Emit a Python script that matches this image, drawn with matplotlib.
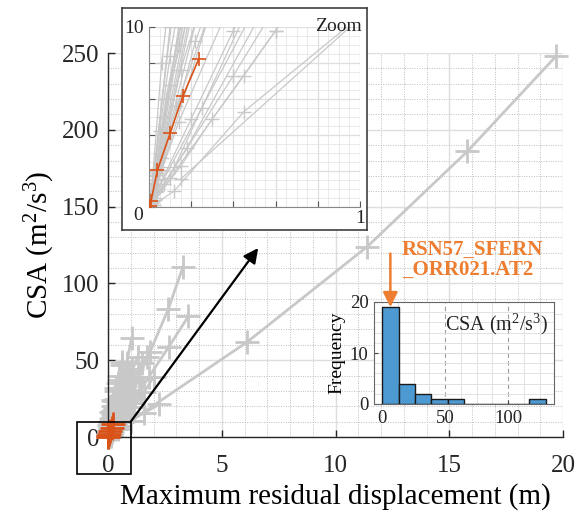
import matplotlib
matplotlib.use("Agg")
import matplotlib.pyplot as plt
from matplotlib.patches import Rectangle
from matplotlib.ticker import MultipleLocator

plt.rcParams['font.family'] = ['Liberation Serif', 'DejaVu Serif']
plt.rcParams['mathtext.fontset'] = 'custom'
plt.rcParams['mathtext.rm'] = 'Liberation Serif'
plt.rcParams['mathtext.it'] = 'Liberation Serif:italic'

# ---- data: (displacement [m], CSA [m^2/s^3]) per record, gray records ----
rec_x = [
    [0.02, 0.14, 1.0, 1.85, 2.65, 3.3],
    [0.03, 0.18, 0.95, 1.8, 2.68, 3.53],
    [0.02, 0.12, 0.55, 1.0, 1.38, 1.70],
    [0.01, 0.06, 0.3, 0.58, 0.82, 1.04],
    [0.008, 0.04, 0.17, 0.33, 0.47, 0.6],
    [0.15, 1.0, 6.13, 11.4, 15.8, 19.7],
    [0.025, 0.12, 0.45, 1.0, 1.6, 2.25],
    [0.015, 0.1, 0.6, 1.15, 1.6, 2.0],
    [0.01, 0.07, 0.4, 0.78, 1.12, 1.45],
    [0.006, 0.04, 0.25, 0.5, 0.72, 0.93],
    [0.005, 0.035, 0.2, 0.4, 0.6, 0.8],
    [0.005, 0.03, 0.152, 0.3, 0.45, 0.6],
    [0.004, 0.02, 0.1, 0.22, 0.36, 0.5],
    [0.005, 0.025, 0.12, 0.28, 0.45, 0.62],
    [0.003, 0.015, 0.06, 0.14, 0.24, 0.35],
    [0.003, 0.018, 0.08, 0.18, 0.3, 0.42],
    [0.006, 0.03, 0.14, 0.32, 0.52, 0.75],
    [0.004, 0.022, 0.1, 0.25, 0.42, 0.6],
    [0.008, 0.04, 0.2, 0.45, 0.75, 1.05],
    [0.002, 0.012, 0.05, 0.1, 0.16, 0.22],
    [0.01, 0.05, 0.28, 0.6, 0.95, 1.3],
    [0.007, 0.035, 0.18, 0.42, 0.7, 1.0],
    [0.006, 0.03, 0.15, 0.35, 0.58, 0.82],
    [0.003, 0.016, 0.07, 0.15, 0.24, 0.33],
    [0.01, 0.045, 0.22, 0.5, 0.8, 1.12],
    [0.005, 0.028, 0.13, 0.3, 0.48, 0.68],
    [0.012, 0.06, 0.32, 0.7, 1.1, 1.5],
]
rec_y = [
    [0.7, 4.7, 27.8, 55.5, 83.3, 111],
    [0.5, 3.3, 19.6, 39.2, 58.9, 78.5],
    [0.33, 2.2, 13.1, 26.2, 39.3, 52.4],
    [0.4, 2.7, 16.1, 32.2, 48.3, 64.4],
    [0.3, 2.1, 12.3, 24.5, 36.8, 49],
    [1.55, 10.5, 62, 124, 186, 248],
    [0.13, 0.9, 5.3, 10.6, 15.9, 21.2],
    [0.24, 1.6, 9.8, 19.6, 29.4, 39.2],
    [0.18, 1.25, 7.3, 14.6, 22, 29.3],
    [0.13, 0.9, 5.5, 11, 16.5, 22],
    [0.12, 0.82, 4.9, 9.8, 14.7, 19.6],
    [0.06, 0.4, 2.3, 4.9, 7.3, 9.8],
    [0.25, 1.7, 10, 20, 30, 40],
    [0.3, 2.0, 11.8, 23.6, 35.4, 47.2],
    [0.2, 1.35, 8, 16, 24, 32],
    [0.15, 1.0, 6, 12, 18, 24],
    [0.22, 1.5, 9, 18, 27, 36],
    [0.17, 1.15, 6.8, 13.6, 20.4, 27.2],
    [0.28, 1.9, 11, 22, 33, 44],
    [0.1, 0.7, 4.2, 8.4, 12.6, 16.8],
    [0.32, 2.2, 13, 26, 39, 52],
    [0.26, 1.8, 10.5, 21, 31.5, 42],
    [0.19, 1.3, 7.6, 15.2, 22.8, 30.4],
    [0.12, 0.85, 5, 10, 15, 20],
    [0.23, 1.55, 9.2, 18.4, 27.6, 36.8],
    [0.14, 0.95, 5.6, 11.2, 16.8, 22.4],
    [0.3, 2.05, 12, 24, 36, 48],
]
# highlighted record RSN57_SFERN_ORR021.AT2
hl_x = [0.003, 0.01, 0.04, 0.10, 0.16, 0.235]
hl_y = [0.05, 0.35, 2.05, 4.1, 6.15, 8.2]
hl_name = "RSN57_SFERN\n_ORR021.AT2"

# CSA values for histogram
hist_values = [1.2, 2.0, 2.8, 3.5, 4.1, 4.9, 5.3, 6.0, 6.8, 7.2, 7.6, 8.2,
               8.4, 9.0, 9.2, 10.0, 10.5, 11.8, 12.3,
               13.1, 16.1, 19.6, 21.2,
               27.8, 29.3,
               45.0,
               62.0,
               124.0]
hist_bins = [0, 13, 26, 39, 52, 65, 78, 91, 104, 117, 130]

main_xticks = [0, 5, 10, 15, 20]
main_yticks = [0, 50, 100, 150, 200, 250]

GRAY = '#c8c8c8'
ORANGE = '#D95319'
ANN = '#ED7D31'

fig = plt.figure(figsize=(5.82, 5.13), dpi=100)
W, H = 582, 513

def fr(x0, y0, x1, y1):
    return [x0 / W, 1 - y1 / H, (x1 - x0) / W, (y1 - y0) / H]

# ---------------- main axes ----------------
ax = fig.add_axes(fr(108, 53, 563, 437))
ax.set_xlim(0, 20)
ax.set_ylim(0, 250)
ax.set_xticks(main_xticks)
ax.set_yticks(main_yticks)
ax.xaxis.set_minor_locator(MultipleLocator(1))
ax.yaxis.set_minor_locator(MultipleLocator(10))
ax.grid(True, which='major', color='#dedede', lw=1.0, ls='-')
ax.grid(True, which='minor', color='#bdbdbd', lw=0.7, ls=(0, (1, 1.5)))
ax.set_axisbelow(True)
ax.tick_params(which='major', direction='in', length=5, width=1, labelsize=18,
               colors='#262626', pad=6)
ax.tick_params(axis='x', which='major', pad=13)
ax.tick_params(which='minor', length=0)
for s in ['top', 'right']:
    ax.spines[s].set_visible(False)
for s in ['left', 'bottom']:
    ax.spines[s].set_color('#262626')
    ax.spines[s].set_linewidth(1.0)
ax.set_xlabel('Maximum residual displacement (m)', fontsize=21, labelpad=4)
ax.set_ylabel(r'CSA (m$^2$/s$^3$)', fontsize=21, labelpad=4)

for xs, ys in zip(rec_x, rec_y):
    ax.plot(xs, ys, color=GRAY, lw=2.0, marker='+', ms=17, mew=2.0, clip_on=False)
ax.plot(hl_x, hl_y, color=ORANGE, lw=2.0, marker='+', ms=17, mew=2.0,
        clip_on=False, zorder=3)

# zoom box and arrow
ax.add_patch(Rectangle((-1.36, -24), 2.36, 34, fill=False, ec='k', lw=1.2,
                       clip_on=False, zorder=5))
ax.annotate('', xy=(6.6, 123), xytext=(1.0, 10.0),
            arrowprops=dict(arrowstyle='-|>', color='k', lw=1.6,
                            mutation_scale=22, shrinkA=0, shrinkB=0), zorder=6)

# ---------------- inset (zoom) ----------------
panel = fig.add_axes(fr(122, 8, 367, 230))
panel.set_xticks([]); panel.set_yticks([])
panel.set_facecolor('white')
for s in panel.spines.values():
    s.set_color('#404040'); s.set_linewidth(1.2)
panel.set_zorder(4)

ins = fig.add_axes(fr(149, 27, 360, 207))
ins.set_zorder(5)
ins.set_xlim(0, 1)
ins.set_ylim(0, 10)
ins.set_xticks([0, 0.2, 0.4, 0.6, 0.8, 1.0])
ins.set_xticklabels(['', '', '', '', '', '1'])
ins.set_yticks([0, 2, 4, 6, 8, 10])
ins.set_yticklabels(['0', '', '', '', '', '10'])
ins.xaxis.set_minor_locator(MultipleLocator(0.05))
ins.yaxis.set_minor_locator(MultipleLocator(0.5))
ins.grid(True, which='major', color='#dedede', lw=0.9)
ins.grid(True, which='minor', color='#e6e6e6', lw=0.6, ls='-')
ins.set_axisbelow(True)
ins.tick_params(which='major', direction='in', length=4, labelsize=14,
                colors='#555555', labelcolor='#222222', pad=2)
ins.tick_params(axis='y', which='major', pad=4)
ins.tick_params(which='minor', length=0)
for s in ['top', 'right']:
    ins.spines[s].set_visible(False)
for s in ['left', 'bottom']:
    ins.spines[s].set_color('#888888')
ins.get_yticklabels()[0].set_va('top')
ins.text(1.01, 1.0, 'Zoom', transform=ins.transAxes, ha='right', va='center',
         fontsize=14, color='#222222')
for xs, ys in zip(rec_x, rec_y):
    ins.plot(xs, ys, color=GRAY, lw=0.9, marker='+', ms=10, mew=1.0)
ins.plot(hl_x, hl_y, color=ORANGE, lw=1.2, marker='+', ms=10, mew=1.2, zorder=3)

# ---------------- histogram ----------------
hx = fig.add_axes(fr(374, 302, 554, 404))
hx.set_zorder(4)
hx.set_facecolor('white')
hx.hist(hist_values, bins=hist_bins, color='#4D9AD2', ec='#1a1a1a', lw=1.0)
hx.set_xlim(-6.5, 136.5)
hx.set_ylim(0, 20)
hx.set_xticks([0, 50, 100])
hx.set_yticks([0, 10, 20])
hx.xaxis.set_minor_locator(MultipleLocator(12.5))
hx.yaxis.set_minor_locator(MultipleLocator(2))
hx.grid(True, axis='x', which='major', color='#9a9a9a', lw=0.8, ls=(0, (4, 3)))
hx.grid(True, axis='y', which='major', color='#dcdcdc', lw=0.8)
hx.grid(True, which='minor', color='#e2e2e2', lw=0.7, ls='-')
hx.set_axisbelow(True)
hx.tick_params(which='major', direction='in', length=3, labelsize=13.5,
               colors='#444444', labelcolor='#222222', pad=4)
hx.tick_params(which='minor', length=0)
for s in hx.spines.values():
    s.set_color('#666666')
hx.set_ylabel('Frequency', fontsize=14, labelpad=3)
hx.text(0.97, 0.78, r'CSA (m$^2$/s$^3$)', transform=hx.transAxes, ha='right',
        va='center', fontsize=14.5, color='#222222')
hx.annotate('', xy=(6.5, 19), xytext=(6.5, 29.5), annotation_clip=False,
            arrowprops=dict(arrowstyle='-|>', color=ANN, lw=1.8,
                            mutation_scale=22, shrinkA=0, shrinkB=0))
hx.text(15.5, 28.3, hl_name, ha='left', va='center', fontsize=15,
        fontweight='bold', color=ANN, linespacing=1.0, clip_on=False)

fig.savefig('out.png', dpi=100)
